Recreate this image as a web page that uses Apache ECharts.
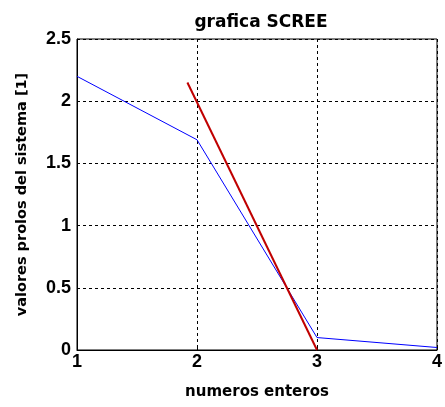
<!DOCTYPE html>
<html>
<head>
<meta charset="utf-8">
<script src="https://cdn.jsdelivr.net/npm/echarts@6/dist/echarts.min.js"></script>
<style>
  html, body { margin: 0; padding: 0; background: #fff; }
  #chart { width: 445px; height: 407px; }
</style>
</head>
<body>
<div id="chart"></div>
<script>
// datos de la grafica scree
const numeros = [1, 2, 3, 4];
const valoresPropios = [2.2, 1.69, 0.1, 0.02];
// recta roja (tendencia)
const rectaX = [1.92, 3];
const rectaY = [2.15, 0];

const fuente = 'Liberation Sans, Arial, sans-serif';
const fuenteAncha = 'DejaVu Sans, sans-serif';

let myChart = echarts.init(document.getElementById('chart'));
myChart.setOption({
  backgroundColor: '#fff',
  animation: false,
  title: {
    text: 'grafica SCREE',
    left: 256,
    top: 9,
    textAlign: 'center',
    textStyle: { fontFamily: fuenteAncha, fontWeight: 'bold', fontSize: 17, color: '#000' }
  },
  grid: {
    left: 77, right: 8, top: 39, bottom: 57,
    show: true, borderColor: '#000', borderWidth: 1, backgroundColor: '#fff'
  },
  xAxis: {
    type: 'value',
    min: 1, max: 4, interval: 1,
    name: 'numeros enteros',
    nameLocation: 'middle',
    nameGap: 35,
    nameTextStyle: { fontFamily: fuenteAncha, fontWeight: 'bold', fontSize: 15, color: '#000' },
    axisLine: { show: true, lineStyle: { color: '#000', width: 1 } },
    axisTick: { show: true, inside: true, length: 3, lineStyle: { color: '#000' } },
    axisLabel: { fontFamily: fuente, fontWeight: 'bold', fontSize: 18, color: '#000', margin: 3 },
    splitLine: { show: true, lineStyle: { color: '#000', type: [3, 3], width: 1 } }
  },
  yAxis: {
    type: 'value',
    min: 0, max: 2.5, interval: 0.5,
    name: 'valores prolos del sistema [1]',
    nameLocation: 'middle',
    nameGap: 47,
    nameTextStyle: { fontFamily: fuenteAncha, fontWeight: 'bold', fontSize: 14.5, color: '#000' },
    axisLine: { show: true, lineStyle: { color: '#000', width: 1 } },
    axisTick: { show: true, inside: true, length: 3, lineStyle: { color: '#000' } },
    axisLabel: { fontFamily: fuente, fontWeight: 'bold', fontSize: 18, color: '#000', margin: 6 },
    splitLine: { show: true, lineStyle: { color: '#000', type: [3, 3], width: 1 } }
  },
  series: [
    {
      type: 'line',
      data: numeros.map((x, i) => [x, valoresPropios[i]]),
      showSymbol: false,
      lineStyle: { color: '#0000ff', width: 1 },
      z: 3
    },
    {
      type: 'line',
      data: rectaX.map((x, i) => [x, rectaY[i]]),
      showSymbol: false,
      lineStyle: { color: '#c00000', width: 2 },
      z: 4
    }
  ]
});
</script>
</body>
</html>
